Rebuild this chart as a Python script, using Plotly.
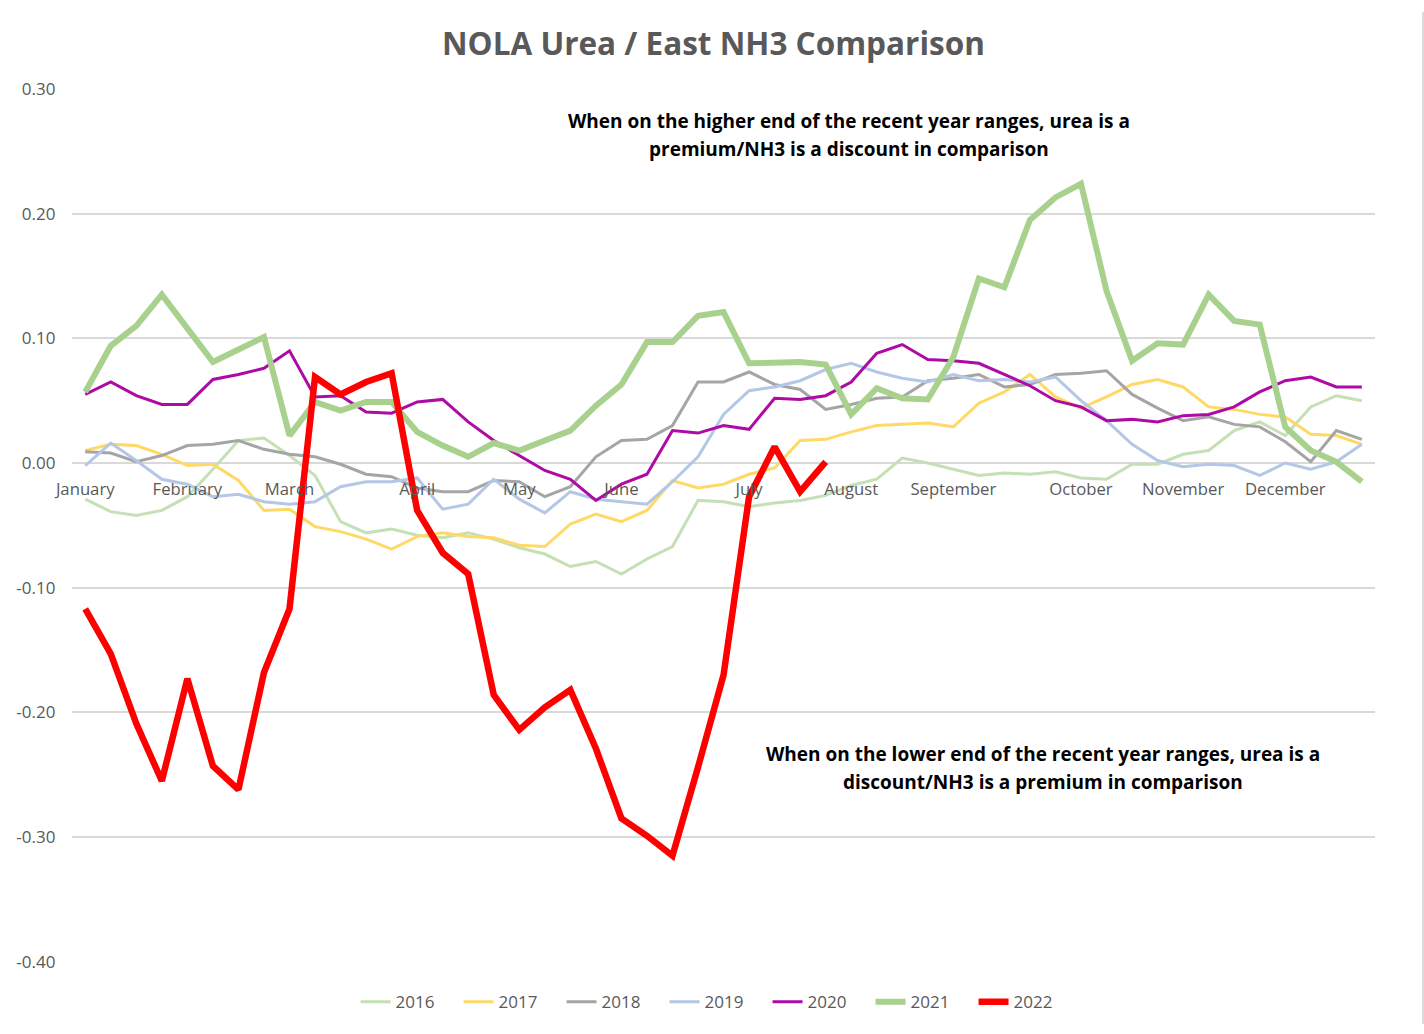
import plotly.graph_objects as go

W, H = 1424, 1034

# ---- data (weekly, 51 points per year) ----
weeks = list(range(51))
month_tick_weeks = [0, 4, 8, 13, 17, 21, 26, 30, 34, 39, 43, 47]
month_labels = ["January", "February", "March", "April", "May", "June",
                "July", "August", "September", "October", "November", "December"]

y2016 = [-0.029, -0.039, -0.042, -0.038, -0.027, -0.005, 0.018, 0.020, 0.006, -0.010,
         -0.047, -0.056, -0.053, -0.058, -0.060, -0.056, -0.061, -0.068, -0.073, -0.083,
         -0.079, -0.089, -0.077, -0.067, -0.030, -0.031, -0.035, -0.032, -0.030, -0.026,
         -0.018, -0.013, 0.004, 0.000, -0.005, -0.010, -0.008, -0.009, -0.007, -0.012,
         -0.013, -0.001, -0.001, 0.007, 0.010, 0.026, 0.033, 0.022, 0.045, 0.054, 0.050]
y2017 = [0.010, 0.015, 0.014, 0.007, -0.002, -0.001, -0.014, -0.038, -0.037, -0.051,
         -0.055, -0.061, -0.069, -0.059, -0.056, -0.059, -0.060, -0.066, -0.067, -0.049,
         -0.041, -0.047, -0.038, -0.014, -0.020, -0.017, -0.009, -0.004, 0.018, 0.019,
         0.025, 0.030, 0.031, 0.032, 0.029, 0.048, 0.057, 0.071, 0.053, 0.044,
         0.053, 0.063, 0.067, 0.061, 0.045, 0.043, 0.039, 0.037, 0.023, 0.022, 0.015]
y2018 = [0.009, 0.008, 0.001, 0.006, 0.014, 0.015, 0.018, 0.011, 0.007, 0.005,
         -0.001, -0.009, -0.011, -0.020, -0.023, -0.023, -0.014, -0.015, -0.027, -0.019,
         0.005, 0.018, 0.019, 0.030, 0.065, 0.065, 0.073, 0.063, 0.059, 0.043,
         0.047, 0.052, 0.053, 0.066, 0.068, 0.071, 0.061, 0.063, 0.071, 0.072,
         0.074, 0.055, 0.044, 0.034, 0.037, 0.031, 0.029, 0.017, 0.001, 0.026, 0.019]
y2019 = [-0.002, 0.016, 0.002, -0.013, -0.017, -0.027, -0.025, -0.031, -0.033, -0.031,
         -0.019, -0.015, -0.015, -0.012, -0.037, -0.033, -0.013, -0.029, -0.040, -0.023,
         -0.029, -0.031, -0.033, -0.015, 0.005, 0.039, 0.058, 0.061, 0.066, 0.075,
         0.080, 0.073, 0.068, 0.065, 0.071, 0.066, 0.067, 0.065, 0.069, 0.050,
         0.034, 0.015, 0.002, -0.003, -0.001, -0.002, -0.010, 0.000, -0.005, 0.001, 0.015]
y2020 = [0.055, 0.065, 0.054, 0.047, 0.047, 0.067, 0.071, 0.076, 0.090, 0.053,
         0.054, 0.041, 0.040, 0.049, 0.051, 0.033, 0.018, 0.006, -0.006, -0.013,
         -0.030, -0.017, -0.009, 0.026, 0.024, 0.030, 0.027, 0.052, 0.051, 0.054,
         0.065, 0.088, 0.095, 0.083, 0.082, 0.080, 0.071, 0.062, 0.050, 0.045,
         0.034, 0.035, 0.033, 0.038, 0.039, 0.045, 0.057, 0.066, 0.069, 0.061, 0.061]
y2021 = [0.057, 0.094, 0.110, 0.135, 0.108, 0.081, 0.091, 0.101, 0.022, 0.049,
         0.042, 0.049, 0.049, 0.025, 0.014, 0.005, 0.016, 0.010, 0.018, 0.026,
         0.046, 0.063, 0.097, 0.097, 0.118, 0.121, 0.080, 0.081, 0.081, 0.079,
         0.039, 0.060, 0.052, 0.051, 0.085, 0.148, 0.141, 0.195, 0.213, 0.224,
         0.138, 0.082, 0.096, 0.095, 0.135, 0.114, 0.111, 0.029, 0.010, 0.001, -0.015]
y2022 = [-0.117, -0.153, -0.209, -0.255, -0.173, -0.243, -0.262, -0.168, -0.117, 0.069,
         0.055, 0.065, 0.072, -0.038, -0.072, -0.089, -0.186, -0.214, -0.196, -0.182,
         -0.229, -0.285, -0.299, -0.315, -0.244, -0.170, -0.027, 0.013, -0.023, 0.001]

series_names = ["2016", "2017", "2018", "2019", "2020", "2021", "2022"]
series_values = [y2016, y2017, y2018, y2019, y2020, y2021, y2022]
series_colors = ["#c5e0b4", "#ffd966", "#a5a5a5", "#b4c7e7", "#ae0aa6", "#a9d18e", "#ff0000"]
series_widths = [3, 3, 3, 3, 3, 6, 6.5]

y_tick_vals = [0.30, 0.20, 0.10, 0.00, -0.10, -0.20, -0.30, -0.40]
y_tick_text = ["0.30", "0.20", "0.10", "0.00", "-0.10", "-0.20", "-0.30", "-0.40"]

title_text = "NOLA Urea / East NH3 Comparison"
note_high = ["When on the higher end of the recent year ranges, urea is a",
             "premium/NH3 is a discount in comparison"]
note_low = ["When on the lower end of the recent year ranges, urea is a",
            "discount/NH3 is a premium in comparison"]

# ---- placement: target screen pixels -> page pixels (viewer calibration) ----
SX, OX = 0.988, 16.5
SY, OY = 0.979, 11.5


def fx(xs):
    return (xs - OX) / SX / W


def fy(ys):
    return 1 - (ys - OY) / SY / H


y_min, y_max = -0.40, 0.30
pad = 0.0004
dom_x = [fx(71), fx(1374)]
dom_y = [fy(962), fy(88)]
zero_pos = dom_y[0] + (0 - y_min) / (y_max - y_min) * (dom_y[1] - dom_y[0])

GRAY = "#595959"
FONT = "Open Sans"

fig = go.Figure()
for name, vals, col, wd in zip(series_names, series_values, series_colors, series_widths):
    fig.add_trace(go.Scatter(
        x=weeks[:len(vals)], y=vals, name=name, mode="lines",
        line=dict(color=col, width=wd),
    ))

fig.update_layout(
    width=W, height=H, autosize=False,
    margin=dict(l=0, r=0, t=0, b=0, pad=0),
    paper_bgcolor="white", plot_bgcolor="white",
    font=dict(family=FONT, color=GRAY, size=16),
    showlegend=True,
    legend=dict(orientation="h", x=fx(715), xanchor="center", y=fy(1002), yanchor="middle",
                font=dict(family=FONT, size=17, color=GRAY), itemwidth=30,
                entrywidth=58, entrywidthmode="pixels",
                bgcolor="rgba(0,0,0,0)"),
    xaxis=dict(
        domain=dom_x,
        range=[-0.5, 50.5],
        tickmode="array", tickvals=month_tick_weeks, ticktext=month_labels,
        showgrid=False, zeroline=False, showline=False, ticks="",
        anchor="free", position=zero_pos,
        ticklabelstandoff=14,
        tickfont=dict(family=FONT, size=16.7, color=GRAY),
    ),
    yaxis=dict(
        domain=dom_y,
        range=[y_min - pad, y_max + pad],
        tickmode="array", tickvals=y_tick_vals, ticktext=y_tick_text,
        showgrid=True, gridcolor="#d9d9d9", gridwidth=1.5,
        zeroline=False, showline=False, ticks="",
        ticklabelstandoff=16,
        tickfont=dict(family=FONT, size=17, color=GRAY),
    ),
)

annotations = [
    dict(text="<b>" + title_text + "</b>", x=fx(712), y=fy(42), xref="paper", yref="paper",
         xanchor="center", yanchor="middle", showarrow=False,
         font=dict(family=FONT, size=31.5, color=GRAY)),
]
for i, line in enumerate(note_high):
    annotations.append(dict(text="<b>" + line + "</b>", x=fx(848), y=fy(121 + 28 * i),
                            xref="paper", yref="paper", xanchor="center", yanchor="middle",
                            showarrow=False, font=dict(family=FONT, size=19, color="black")))
for i, line in enumerate(note_low):
    annotations.append(dict(text="<b>" + line + "</b>", x=fx(1042), y=fy(754 + 28 * i),
                            xref="paper", yref="paper", xanchor="center", yanchor="middle",
                            showarrow=False, font=dict(family=FONT, size=19, color="black")))
fig.update_layout(annotations=annotations)

# chart-area frame (only the right edge falls inside the page)
fig.add_shape(type="line", xref="paper", yref="paper",
              x0=fx(1422.5), x1=fx(1422.5), y0=0, y1=1,
              line=dict(color="#d9d9d9", width=2), layer="below")

fig.write_html(
    "out.html",
    config={"displayModeBar": False},
    post_script="document.body.style.margin='0';document.body.style.padding='0';"
                "document.documentElement.style.overflow='hidden';",
)
